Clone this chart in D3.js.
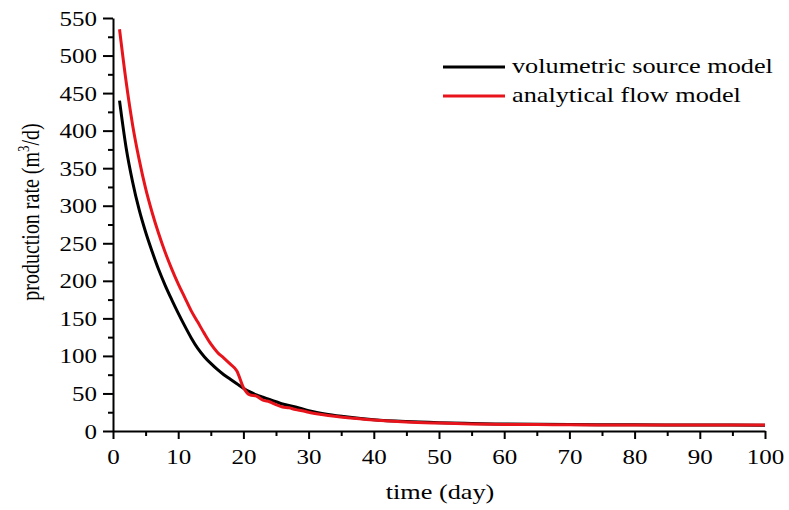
<!DOCTYPE html>
<html lang="en">
<head>
<meta charset="UTF-8">
<title>production rate vs time</title>
<script src="https://d3js.org/d3.v7.min.js"></script>
<style>
    body { margin: 0; padding: 0; background: #fff; }
    svg text { font-family: "Liberation Serif", "Times New Roman", serif; fill: #000; }
    .axis path, .axis line { stroke: #000; stroke-width: 2px; }
    .axis text { font-size: 20px; }
</style>
</head>
<body>
<script>
    const blackDays = [1, 2, 3, 4, 5, 6, 7, 8, 9, 10, 11, 12, 13, 14, 15, 16, 17, 18, 19, 20,
        21, 22, 23, 24, 25, 26, 28, 30, 33, 36, 40, 45, 50, 55, 60, 70, 80, 90, 100];
    const blackRate = [440, 378, 332, 295, 265, 239, 215, 194, 175, 157, 140, 124, 110, 99, 90, 82, 75, 69, 63, 57,
        52, 48, 45, 42, 39, 36, 32, 27, 22, 18.5, 15, 12.5, 11, 10, 9.3, 8.6, 8.2, 8, 7.8];

    const redDays = [1, 2, 3, 4, 5, 6, 7, 8, 9, 10, 11, 12, 13, 14, 15, 16, 17, 18, 19, 20,
        21, 22, 23, 24, 25, 26, 27, 28, 29, 30, 32, 34, 36, 40, 45, 50, 55, 60, 65, 70, 80, 90, 100];
    const redRate = [535, 466, 408, 362, 323, 291, 263, 238, 216, 196, 178, 160, 145, 130, 116, 105, 97, 89, 80, 58,
        48, 46.5, 41, 39, 35, 32, 31, 28.5, 27, 25, 22, 19.5, 17.5, 14.5, 12, 10.5, 9.3, 8.8, 8.5, 8.3, 8, 8, 8];

    const xTicks = [0, 10, 20, 30, 40, 50, 60, 70, 80, 90, 100];
    const yTicks = [0, 50, 100, 150, 200, 250, 300, 350, 400, 450, 500, 550];

    const series = [
        { name: "volumetric source model", color: "#000000", days: blackDays, rate: blackRate },
        { name: "analytical flow model", color: "#e8141c", days: redDays, rate: redRate }
    ];

    const width = 789, height = 510;
    const stretch = 1.25;   // text in the source is wide

    const svg = d3.select("body").append("svg")
        .attr("width", width)
        .attr("height", height);

    const x = d3.scaleLinear().domain([0, 100]).range([113, 765]);
    const y = d3.scaleLinear().domain([0, 550]).range([431, 18]);

    // minor ticks first, then the main axes over them
    svg.append("g")
        .attr("class", "axis")
        .attr("transform", "translate(0,431)")
        .call(d3.axisBottom(x).tickValues(d3.range(5, 100, 10)).tickSize(5).tickFormat(""))
        .select(".domain").remove();
    svg.append("g")
        .attr("class", "axis")
        .attr("transform", "translate(113,0)")
        .call(d3.axisLeft(y).tickValues(d3.range(25, 550, 50)).tickSize(5).tickFormat(""))
        .select(".domain").remove();

    const xAxis = svg.append("g")
        .attr("class", "axis")
        .attr("transform", "translate(0,431)")
        .call(d3.axisBottom(x).tickValues(xTicks).tickSize(8).tickSizeOuter(0).tickPadding(11));
    xAxis.selectAll("text")
        .attr("transform", `scale(${stretch},1)`);

    const yAxis = svg.append("g")
        .attr("class", "axis")
        .attr("transform", "translate(113,0)")
        .call(d3.axisLeft(y).tickValues(yTicks).tickSize(10).tickSizeOuter(0).tickPadding(6));
    yAxis.selectAll("text")
        .attr("dy", "0.35em")
        .attr("transform", `translate(-16,0) scale(${stretch},1) translate(16,0)`);

    // axis titles
    svg.append("text")
        .attr("transform", `translate(440,499) scale(${stretch},1)`)
        .attr("text-anchor", "middle")
        .style("font-size", "21px")
        .text("time (day)");

    // rotated, so the source's wide text shows up as tall glyphs
    const yTitle = svg.append("text")
        .attr("transform", `translate(39,212) rotate(-90) scale(1,${stretch})`)
        .attr("text-anchor", "middle")
        .style("font-size", "20px");
    yTitle.append("tspan").text("production rate (m");
    yTitle.append("tspan").attr("dy", "-8").style("font-size", "13px").text("3");
    yTitle.append("tspan").attr("dy", "8").text("/d)");

    // curves
    const line = d3.line()
        .x(d => x(d[0]))
        .y(d => y(d[1]))
        .curve(d3.curveMonotoneX);

    svg.selectAll(".curve")
        .data(series)
        .enter()
        .append("path")
        .attr("class", "curve")
        .attr("fill", "none")
        .attr("stroke", d => d.color)
        .attr("stroke-width", 3)
        .attr("stroke-linejoin", "round")
        .attr("d", d => line(d.days.map((t, i) => [t, d.rate[i]])));

    // legend
    const legend = svg.selectAll(".legend")
        .data(series)
        .enter()
        .append("g")
        .attr("class", "legend")
        .attr("transform", (d, i) => `translate(443,${67 + i * 29})`);

    legend.append("line")
        .attr("x1", 0).attr("x2", 62)
        .attr("stroke", d => d.color)
        .attr("stroke-width", 3);

    legend.append("text")
        .attr("transform", `translate(69,6) scale(${stretch},1)`)
        .style("font-size", "21px")
        .text(d => d.name);
</script>
</body>
</html>
